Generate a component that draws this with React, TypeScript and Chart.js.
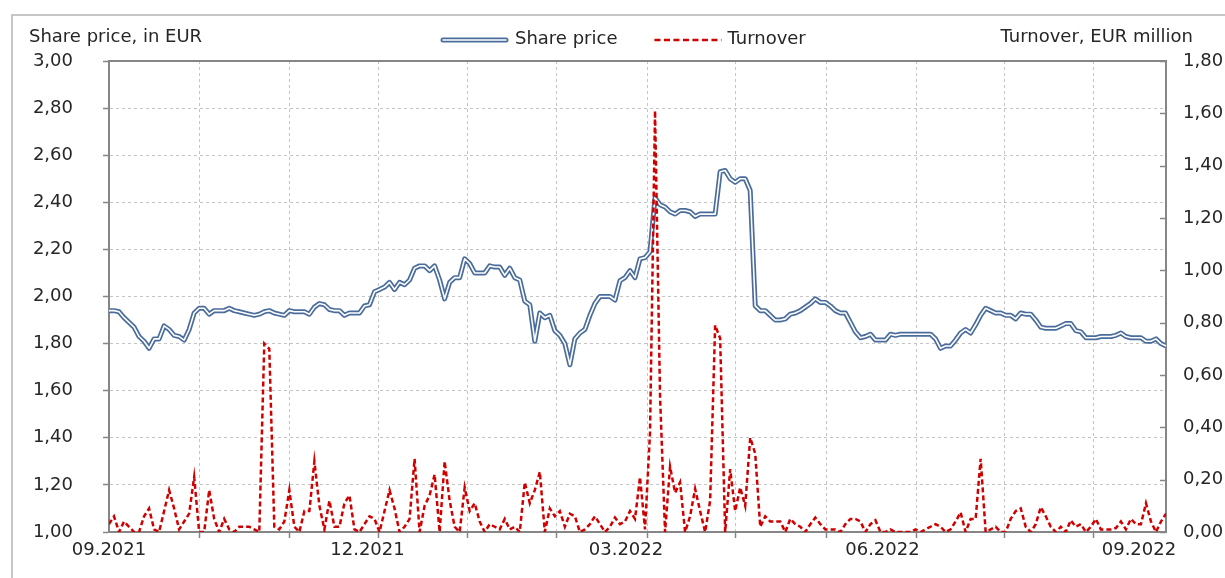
import React, { useEffect, useRef } from 'react';
import { Chart, registerables } from 'chart.js';

Chart.register(...registerables);

const X_LABELS = ['09.2021', '12.2021', '03.2022', '06.2022', '09.2022'];
const X_LABEL_POS = [0, 51.6, 103.2, 154.4, 205.6];
const X_GRID_POS = [18, 36, 53.8, 71.6, 89.4, 107.4, 125, 143.2, 161.2, 178.8, 196.6];

const LEFT_TITLE = 'Share price, in EUR';
const RIGHT_TITLE = 'Turnover, EUR million';
const PRICE_LABEL = 'Share price';
const TURNOVER_LABEL = 'Turnover';

const SHARE_PRICE = [
  1.94, 1.94, 1.935, 1.91, 1.89, 1.87, 1.83, 1.81, 1.78, 1.82,
  1.82, 1.875, 1.86, 1.835, 1.83, 1.815, 1.86, 1.93, 1.95, 1.95,
  1.925, 1.94, 1.94, 1.94, 1.95, 1.94, 1.935, 1.93, 1.925, 1.92,
  1.925, 1.935, 1.94, 1.93, 1.925, 1.92, 1.94, 1.935, 1.935, 1.935,
  1.925, 1.955, 1.97, 1.965, 1.945, 1.94, 1.94, 1.92, 1.93, 1.93,
  1.93, 1.96, 1.965, 2.02, 2.03, 2.04, 2.06, 2.03, 2.06, 2.05,
  2.07, 2.12, 2.13, 2.13, 2.11, 2.13, 2.07, 1.99, 2.06, 2.08,
  2.08, 2.16, 2.14, 2.10, 2.10, 2.10, 2.13, 2.125, 2.125, 2.09,
  2.12, 2.08, 2.07, 1.98, 1.965, 1.81, 1.93, 1.91, 1.92, 1.855,
  1.835, 1.80, 1.71, 1.82, 1.845, 1.86, 1.92, 1.97, 2.00, 2.00,
  2.00, 1.985, 2.067, 2.08, 2.11, 2.08, 2.16, 2.165, 2.19, 2.42,
  2.39, 2.38, 2.36, 2.35, 2.365, 2.365, 2.36, 2.34, 2.35, 2.35,
  2.35, 2.35, 2.53, 2.535, 2.50, 2.485, 2.50, 2.50, 2.45, 1.96,
  1.94, 1.94, 1.92, 1.90, 1.90, 1.905, 1.925, 1.93, 1.94, 1.955,
  1.97, 1.99, 1.975, 1.975, 1.96, 1.94, 1.93, 1.93, 1.89, 1.85,
  1.825, 1.83, 1.84, 1.815, 1.815, 1.815, 1.84, 1.835, 1.84, 1.84,
  1.84, 1.84, 1.84, 1.84, 1.84, 1.82, 1.78, 1.79, 1.79, 1.815,
  1.845, 1.86, 1.845, 1.88, 1.92, 1.95, 1.94, 1.93, 1.93, 1.92,
  1.92, 1.905, 1.93, 1.925, 1.925, 1.90, 1.87, 1.865, 1.865, 1.865,
  1.875, 1.885, 1.885, 1.855, 1.85, 1.825, 1.825, 1.825, 1.83, 1.83,
  1.83, 1.835, 1.845, 1.83, 1.825, 1.825, 1.825, 1.81, 1.81, 1.82,
  1.80, 1.79,
];

const TURNOVER = [
  0.03, 0.06, 0.00, 0.04, 0.02, 0.00, 0.00, 0.06, 0.09, 0.01,
  0.00, 0.08, 0.16, 0.09, 0.01, 0.04, 0.07, 0.21, 0.00, 0.00,
  0.16, 0.05, 0.00, 0.05, 0.01, 0.00, 0.02, 0.02, 0.02, 0.01,
  0.00, 0.72, 0.70, 0.02, 0.01, 0.04, 0.16, 0.02, 0.00, 0.08,
  0.08, 0.27, 0.10, 0.01, 0.12, 0.02, 0.02, 0.11, 0.14, 0.01,
  0.00, 0.03, 0.06, 0.05, 0.00, 0.08, 0.16, 0.09, 0.00, 0.02,
  0.05, 0.28, 0.00, 0.10, 0.14, 0.22, 0.00, 0.27, 0.12, 0.02,
  0.00, 0.17, 0.08, 0.11, 0.04, 0.00, 0.03, 0.02, 0.01, 0.05,
  0.01, 0.02, 0.00, 0.19, 0.11, 0.16, 0.23, 0.00, 0.09, 0.06,
  0.08, 0.02, 0.07, 0.06, 0.00, 0.01, 0.03, 0.06, 0.03, 0.00,
  0.02, 0.055, 0.03, 0.04, 0.08, 0.05, 0.21, 0.01, 0.38, 1.61,
  0.52, 0.00, 0.25, 0.15, 0.19, 0.00, 0.06, 0.165, 0.08, 0.00,
  0.12, 0.79, 0.74, 0.00, 0.24, 0.08, 0.17, 0.10, 0.36, 0.30,
  0.02, 0.06, 0.04, 0.04, 0.04, 0.00, 0.05, 0.03, 0.02, 0.00,
  0.03, 0.055, 0.03, 0.01, 0.01, 0.01, 0.00, 0.03, 0.05, 0.05,
  0.04, 0.00, 0.03, 0.045, 0.00, 0.00, 0.01, 0.00, 0.00, 0.00,
  0.00, 0.01, 0.00, 0.01, 0.02, 0.03, 0.02, 0.00, 0.01, 0.04,
  0.075, 0.00, 0.05, 0.05, 0.28, 0.00, 0.01, 0.02, 0.00, 0.00,
  0.05, 0.08, 0.09, 0.02, 0.00, 0.03, 0.095, 0.06, 0.02, 0.00,
  0.02, 0.00, 0.045, 0.02, 0.03, 0.00, 0.02, 0.05, 0.01, 0.01,
  0.01, 0.015, 0.04, 0.01, 0.05, 0.03, 0.03, 0.11, 0.04, 0.00,
  0.04, 0.07,
];

const FONT = "'DejaVu Sans', Verdana, sans-serif";
const TEXT = '#262626';
const AXIS = '#868686';
const GRID = '#c4c4c4';
const BLUE = '#4a6c9b';
const RED = '#d00000';

const fmt = (v: number) => Number(v).toFixed(2).replace('.', ',');
const near = (a: number, b: number) => Math.abs(a - b) < 1e-6;

const decor = {
  id: 'decor',
  beforeDraw(chart: any) {
    const ctx = chart.ctx;
    ctx.save();
    ctx.fillStyle = '#ffffff';
    ctx.fillRect(0, 0, chart.width, chart.height);
    ctx.strokeStyle = '#b4b4b4';
    ctx.lineWidth = 1.5;
    ctx.beginPath();
    ctx.moveTo(12, chart.height);
    ctx.lineTo(12, 15);
    ctx.lineTo(chart.width, 15);
    ctx.stroke();
    ctx.restore();
  },
  afterDraw(chart: any) {
    const ctx = chart.ctx;
    const a = chart.chartArea;
    ctx.save();
    // top frame of plot area
    ctx.strokeStyle = AXIS;
    ctx.lineWidth = 2;
    ctx.beginPath();
    ctx.moveTo(a.left - 1, a.top);
    ctx.lineTo(a.right + 1, a.top);
    ctx.stroke();
    // inward tick marks on right axis
    const y1 = chart.scales.y1;
    ctx.lineWidth = 1.5;
    y1.ticks.forEach((t: any) => {
      const y = Math.round(y1.getPixelForValue(t.value)) + 0.5;
      ctx.beginPath();
      ctx.moveTo(a.right - 6, y);
      ctx.lineTo(a.right, y);
      ctx.stroke();
    });
    // axis titles
    ctx.font = `18px ${FONT}`;
    ctx.fillStyle = TEXT;
    ctx.textBaseline = 'middle';
    ctx.textAlign = 'left';
    ctx.fillText(LEFT_TITLE, 29, 37);
    ctx.textAlign = 'right';
    ctx.fillText(RIGHT_TITLE, 1193, 37);
    // legend
    const ly = 40;
    let x = 441;
    const sample = 67;
    // share price sample (double line)
    ctx.lineCap = 'round';
    ctx.strokeStyle = BLUE;
    ctx.lineWidth = 5;
    ctx.beginPath();
    ctx.moveTo(x + 2, ly);
    ctx.lineTo(x + sample - 2, ly);
    ctx.stroke();
    ctx.strokeStyle = '#ffffff';
    ctx.lineWidth = 1.6;
    ctx.beginPath();
    ctx.moveTo(x + 2, ly);
    ctx.lineTo(x + sample - 2, ly);
    ctx.stroke();
    x += sample + 7;
    ctx.textAlign = 'left';
    ctx.fillStyle = TEXT;
    ctx.fillText(PRICE_LABEL, x, ly - 1);
    x += ctx.measureText(PRICE_LABEL).width + 37;
    // turnover sample (dashed)
    ctx.lineCap = 'butt';
    ctx.strokeStyle = RED;
    ctx.lineWidth = 2.5;
    ctx.setLineDash([6, 3.5]);
    ctx.beginPath();
    ctx.moveTo(x, ly);
    ctx.lineTo(x + sample, ly);
    ctx.stroke();
    ctx.setLineDash([]);
    x += sample + 6;
    ctx.fillText(TURNOVER_LABEL, x, ly - 1);
    ctx.restore();
  },
};

export default function App() {
  const ref = useRef<HTMLCanvasElement | null>(null);

  useEffect(() => {
    if (!ref.current) return;
    const priceData = SHARE_PRICE.map((v, i) => ({ x: i, y: v }));
    const turnoverData = TURNOVER.map((v, i) => ({ x: i, y: v }));
    const xTicks = [...X_GRID_POS, ...X_LABEL_POS].sort((p, q) => p - q);

    const chart = new Chart(ref.current, {
      type: 'line',
      data: {
        datasets: [
          {
            label: TURNOVER_LABEL,
            data: turnoverData,
            yAxisID: 'y1',
            borderColor: RED,
            borderWidth: 2.5,
            borderDash: [5, 3],
            pointRadius: 0,
            tension: 0,
            order: 0,
          },
          {
            label: PRICE_LABEL,
            data: priceData,
            yAxisID: 'y',
            borderColor: '#ffffff',
            borderWidth: 1.6,
            borderJoinStyle: 'round',
            pointRadius: 0,
            tension: 0,
            order: 1,
          },
          {
            label: PRICE_LABEL,
            data: priceData,
            yAxisID: 'y',
            borderColor: BLUE,
            borderWidth: 5,
            borderJoinStyle: 'round',
            pointRadius: 0,
            tension: 0,
            order: 2,
          },
        ],
      },
      options: {
        animation: false,
        responsive: false,
        maintainAspectRatio: false,
        devicePixelRatio: 1,
        events: [],
        layout: { padding: { top: 61, left: 0, right: 0, bottom: 0 } },
        plugins: {
          legend: { display: false },
          tooltip: { enabled: false },
          title: { display: false },
        },
        font: { family: FONT, size: 18 },
        scales: {
          x: {
            type: 'linear',
            min: 0,
            max: SHARE_PRICE.length - 1,
            afterFit: (s: any) => { s.height = 46; },
            afterBuildTicks: (s: any) => { s.ticks = xTicks.map((v) => ({ value: v })); },
            ticks: {
              autoSkip: false,
              maxRotation: 0,
              minRotation: 0,
              padding: 2,
              color: TEXT,
              font: { family: FONT, size: 18 },
              callback: (value: any) => {
                const k = X_LABEL_POS.findIndex((p) => near(p, Number(value)));
                return k >= 0 ? X_LABELS[k] : '';
              },
            },
            grid: {
              color: (c: any) => (c.tick && X_GRID_POS.some((p) => near(p, c.tick.value)) ? GRID : 'rgba(0,0,0,0)'),
              tickColor: (c: any) => (c.tick && X_GRID_POS.some((p) => near(p, c.tick.value)) ? AXIS : 'rgba(0,0,0,0)'),
              lineWidth: 1,
              tickLength: 6,
              tickWidth: 1.5,
            },
            border: { display: true, color: AXIS, width: 2, dash: [3, 3] },
          },
          y: {
            type: 'linear',
            position: 'left',
            min: 1,
            max: 3,
            afterFit: (s: any) => { s.width = 109; },
            ticks: {
              stepSize: 0.2,
              padding: 30,
              color: TEXT,
              font: { family: FONT, size: 18 },
              callback: (v: any) => fmt(v),
            },
            grid: {
              color: (c: any) => (c.tick && (near(c.tick.value, 1) || near(c.tick.value, 3)) ? 'rgba(0,0,0,0)' : GRID),
              tickColor: AXIS,
              tickLength: 6,
              tickWidth: 1.5,
              lineWidth: 1,
            },
            border: { display: true, color: AXIS, width: 2, dash: [3, 3] },
          },
          y1: {
            type: 'linear',
            position: 'right',
            min: 0,
            max: 1.8,
            afterFit: (s: any) => { s.width = 59; },
            ticks: {
              stepSize: 0.2,
              padding: 17,
              color: TEXT,
              font: { family: FONT, size: 18 },
              callback: (v: any) => fmt(v),
            },
            grid: { drawOnChartArea: false, drawTicks: false },
            border: { display: true, color: AXIS, width: 2 },
          },
        },
      },
      plugins: [decor],
    } as any);

    return () => chart.destroy();
  }, []);

  return (
    <div style={{ position: 'absolute', left: 0, top: 0, width: 1225, height: 578 }}>
      <canvas ref={ref} width={1225} height={578} style={{ width: 1225, height: 578, display: 'block' }} />
    </div>
  );
}
